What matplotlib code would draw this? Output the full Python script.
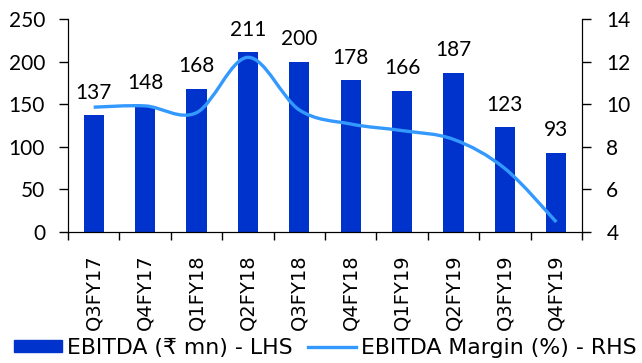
import matplotlib
matplotlib.use("Agg")
import matplotlib.pyplot as plt
from matplotlib.path import Path
from matplotlib.patches import PathPatch, Patch
from matplotlib.lines import Line2D
import numpy as np

categories = ["Q3FY17", "Q4FY17", "Q1FY18", "Q2FY18", "Q3FY18",
              "Q4FY18", "Q1FY19", "Q2FY19", "Q3FY19", "Q4FY19"]
ebitda = [137, 148, 168, 211, 200, 178, 166, 187, 123, 93]
margin = [9.86, 9.92, 9.6, 12.2, 9.73, 9.07, 8.76, 8.35, 6.98, 4.47]

bar_color = "#0033CC"
line_color = "#3399FF"
num_font = ["Lato", "DejaVu Sans"]
num_fs = 15

plt.rcParams['font.family'] = ['DejaVu Sans']
fig = plt.figure(figsize=(6.42, 3.63), dpi=100)
ax = fig.add_axes([68 / 642, 1 - 232 / 363, 514 / 642, 213 / 363])
x = np.arange(len(categories))
ax.bar(x, ebitda, width=0.39, color=bar_color, zorder=2)
for xi, v in zip(x, ebitda):
    ax.annotate(str(v), (xi, v), xytext=(0, 12), textcoords="offset points",
                ha="center", va="baseline", fontsize=num_fs, family=num_font)
ax.set_ylim(0, 250)
ax.set_yticks(range(0, 251, 50))
ax.set_xlim(-0.5, len(categories) - 0.5)
ax.set_xticks(x)
ax.set_xticklabels(categories, rotation=90, fontsize=14)
ax.set_xticks(np.arange(-0.5, len(categories), 1), minor=True)
ax.tick_params(axis="x", which="major", length=0, pad=16)
ax.tick_params(axis="x", which="minor", length=6, direction="out", width=1)
ax.tick_params(axis="y", length=6.5, direction="out", width=1, pad=10)
for lab in ax.get_yticklabels():
    lab.set_family(num_font)
    lab.set_fontsize(num_fs)
ax.spines["top"].set_visible(False)

ax2 = ax.twinx()
ax2.set_ylim(4, 14)
ax2.set_yticks(range(4, 15, 2))
ax2.tick_params(axis="y", length=6.5, direction="out", width=1, pad=11)
for lab in ax2.get_yticklabels():
    lab.set_family(num_font)
    lab.set_fontsize(num_fs)
ax2.spines["top"].set_visible(False)

# smoothed line (Excel-like bezier through the data points)
pts = np.column_stack([x, margin]).astype(float)
verts = [tuple(pts[0])]
codes = [Path.MOVETO]
n = len(pts)
for i in range(n - 1):
    p0 = pts[i - 1] if i > 0 else pts[i]
    p1 = pts[i]
    p2 = pts[i + 1]
    p3 = pts[i + 2] if i + 2 < n else pts[i + 1]
    c1 = p1 + (p2 - p0) / 6.0
    c2 = p2 - (p3 - p1) / 6.0
    verts += [tuple(c1), tuple(c2), tuple(p2)]
    codes += [Path.CURVE4] * 3
ax2.add_patch(PathPatch(Path(verts, codes), facecolor="none",
                        edgecolor=line_color, lw=2.4, capstyle="butt", zorder=3))

handles = [Patch(color=bar_color), Line2D([0], [0], color=line_color, lw=2.4)]
fig.legend(handles, ["EBITDA (₹ mn) - LHS", "EBITDA Margin (%) - RHS"],
           loc="center left", bbox_to_anchor=(15 / 642 - 0.012, 1 - 348 / 363),
           ncol=2, frameon=False, fontsize=15.8, handlelength=2.2,
           handleheight=0.45, handletextpad=0.23, columnspacing=0.68,
           borderaxespad=0.0, borderpad=0.3)

fig.savefig("out.png", dpi=100)
